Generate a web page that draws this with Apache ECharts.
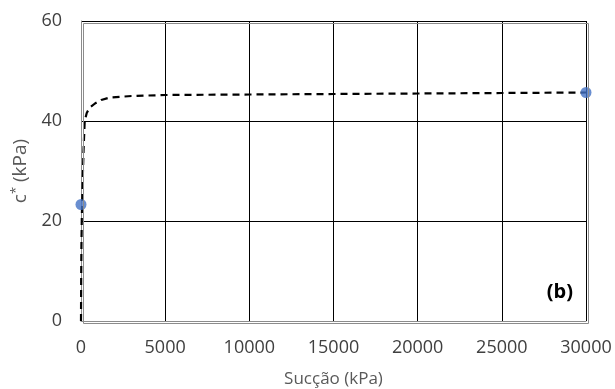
<!DOCTYPE html>
<html>
<head>
<meta charset="utf-8">
<script src="https://cdn.jsdelivr.net/npm/echarts@6/dist/echarts.min.js"></script>
<style>
html, body { margin: 0; padding: 0; background: #fff; }
#main { width: 615px; height: 389px; }
</style>
</head>
<body>
<div id="main"></div>
<script>
// curva ajustada (tracejada)
var suction = [0, 10, 25, 50, 100, 150, 220, 340, 500, 830, 1200, 1720, 3000, 5000, 10000, 15000, 20000, 25000, 30000];
var cStar = [0, 8, 15, 21, 28, 34, 40, 41.6, 42.6, 43.5, 44.2, 44.7, 45.0, 45.2, 45.3, 45.4, 45.5, 45.6, 45.7];

// pontos medidos
var measSuction = [0, 30000];
var measC = [23.3, 45.7];

var chart = echarts.init(document.getElementById('main'));

var curve = suction.map(function(s, i) { return [s, cStar[i]]; });
var points = measSuction.map(function(s, i) { return [s, measC[i]]; });

var option = {
	animation: false,
	textStyle: { fontFamily: 'Open Sans' },
	grid: { left: 81, right: 29, top: 21, bottom: 68, outerBoundsMode: 'none', containLabel: false },
	xAxis: {
		type: 'value',
		min: 0,
		max: 30000,
		interval: 5000,
		name: 'Sucção (kPa)',
		nameLocation: 'middle',
		nameGap: 50,
		nameTextStyle: { fontSize: 17, color: '#595959' },
		axisLine: { show: true, lineStyle: { color: '#8c8c8c', width: 1 } },
		axisTick: { show: false },
		axisLabel: { fontSize: 18, color: '#404040', margin: 18, formatter: function(v) { return String(v); } },
		splitLine: { show: true, lineStyle: { color: '#000', width: 1 } }
	},
	yAxis: {
		type: 'value',
		min: 0,
		max: 60,
		interval: 20,
		name: '{n|c}{s|*}{n| (kPa)}',
		nameLocation: 'middle',
		nameGap: 44,
		nameTextStyle: {
			color: '#595959',
			fontSize: 19,
			rich: {
				n: { fontSize: 19, color: '#595959' },
				s: { fontSize: 13, color: '#595959', verticalAlign: 'top', padding: [0, 0, 9, 0] }
			}
		},
		axisLine: { show: true, lineStyle: { color: '#8c8c8c', width: 1 } },
		axisTick: { show: false },
		axisLabel: { fontSize: 18, color: '#404040', margin: 19 },
		splitLine: { show: true, lineStyle: { color: '#000', width: 1 } }
	},
	graphic: [{
		type: 'rect',
		left: 81, top: 21,
		shape: { width: 505, height: 300 },
		style: { fill: 'none', stroke: '#8c8c8c', lineWidth: 1 },
		silent: true, z: 5
	}, {
		type: 'text',
		right: 42, top: 282,
		style: { text: '(b)', font: 'bold 20px "Open Sans"', fill: '#000' },
		z: 10
	}],
	series: [{
		type: 'line',
		data: curve,
		showSymbol: false,
		smooth: false,
		lineStyle: { color: '#000', width: 2.2, type: [7, 5] },
		z: 3
	}, {
		type: 'scatter',
		data: points,
		symbolSize: 11,
		itemStyle: { color: '#4472c4' },
		z: 4
	}]
};

chart.setOption(option);
</script>
</body>
</html>
